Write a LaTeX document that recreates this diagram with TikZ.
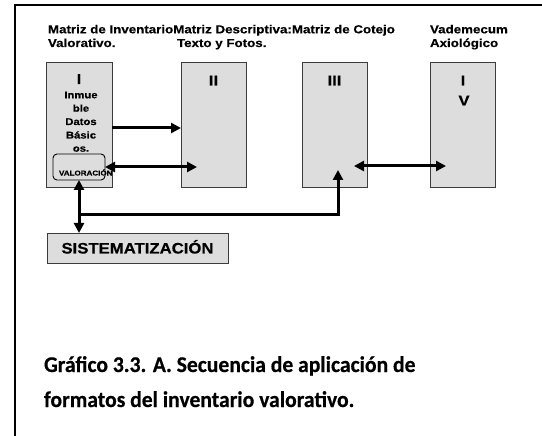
\documentclass[tikz,border=0pt]{standalone}
\usepackage{fontspec}
\usetikzlibrary{arrows.meta,positioning}
\newfontfamily\arialfont[FakeStretch=1.15,BoldFeatures={FakeBold=0.4}]{Liberation Sans}
\newfontfamily\sistfont[FakeStretch=1.1,BoldFeatures={FakeBold=0.4}]{Liberation Sans}
\newfontfamily\captionfont[FakeStretch=0.96,BoldFeatures={FakeBold=0.5}]{Carlito}
\definecolor{boxgray}{RGB}{221,221,221}
\definecolor{edgegray}{RGB}{60,60,60}

\begin{document}
\begin{tikzpicture}
  [x=1pt,y=-1pt,
   every node/.style={inner sep=0,outer sep=0},
   matbox/.style={draw=edgegray,fill=boxgray,line width=0.9pt,minimum width=65pt,minimum height=125pt},
   head/.style={anchor=base west,font=\arialfont\bfseries\fontsize{11.6}{13}\selectfont},
   numtxt/.style={anchor=base,font=\arialfont\bfseries\fontsize{14.5}{16}\selectfont},
   smalltxt/.style={anchor=base,font=\arialfont\bfseries\fontsize{9.8}{11}\selectfont},
   captxt/.style={anchor=base west,font=\captionfont\bfseries\fontsize{22.5}{35}\selectfont},
   arr/.style={line width=3pt,-{Triangle[length=10pt,width=10pt]}},
   darr/.style={line width=3pt,{Triangle[length=10pt,width=10pt]}-{Triangle[length=10pt,width=10pt]}}]

  \useasboundingbox (0,0) rectangle (542,436);
  \draw[line width=1.5pt] (15,436) -- (15,5) -- (542,5);

  % headers
  \node[head] (h1a) at (48,33.3) {Matriz de Inventario};
  \node[head] (h1b) at (48,47) {Valorativo.};
  \node[head] (h2a) at (h1a.base east) {Matriz Descriptiva:};
  \node[head] (h2b) at (177,47) {Texto y Fotos.};
  \node[head] (h3a) at (h2a.base east) {Matriz de Cotejo};
  \node[head] (h4a) at (430,33.3) {Vademecum};
  \node[head] (h4b) at (430,47) {Axiológico};

  % matrices
  \node[matbox,minimum width=66pt] (boxI) at (79,124.5) {};
  \node[matbox] (boxII) at (213.5,124.5) {};
  \node[matbox] (boxIII) at (334.5,124.5) {};
  \node[matbox] (boxIV) at (462.5,124.5) {};

  \node[numtxt] (nI) at (79,84) {I};
  \node[numtxt] (nII) at (213.5,85.5) {II};
  \node[numtxt] (nIII) at (334.5,85.5) {III};
  \node[numtxt] (nIVa) at (463,85.5) {I};
  \node[numtxt] (nIVb) at (464,105.5) {V};

  \node[smalltxt] (t1) at (81,98.3) {Inmue};
  \node[smalltxt] (t2) at (81,111.7) {ble};
  \node[smalltxt] (t3) at (81,125) {Datos};
  \node[smalltxt] (t4) at (81,138.5) {Básic};
  \node[smalltxt] (t5) at (81,151.7) {os.};

  \node[draw=black,fill=boxgray,line width=0.9pt,rounded corners=4pt,minimum width=52pt,minimum height=26pt] (valor) at (79,167) {};
  \node[anchor=base west,font=\arialfont\bfseries\fontsize{7}{8}\selectfont] (valortxt) at (59,175.5) {VALORACIÓN};

  \node[draw=edgegray,fill=boxgray,line width=0.9pt,minimum width=181pt,minimum height=30pt,text height=11pt,text depth=0pt,font=\sistfont\bfseries\fontsize{15.2}{17}\selectfont] (sist) at (137.5,248) {SISTEMATIZACIÓN};

  % connectors
  \coordinate (p2) at (197,167);
  \coordinate (j1) at (79,215);
  \coordinate (p3) at (338,170);
  \coordinate (p4) at (354,166);
  \coordinate (p5) at (446,166);

  \draw[arr] ([yshift=-3.5pt]boxI.east) -- ([yshift=-3.5pt]boxII.west);
  \draw[darr] (valor.east) -- (p2);
  \draw[darr] (valor.south) -- (valor.south |- sist.north);
  \draw[arr] (j1) -| (p3);
  \draw[darr] (p4) -- (p5);

  % caption
  \node[captxt] (cap1) at (44,372) {Gráfico 3.3. A. Secuencia de aplicación de};
  \node[captxt] (cap2) at (44,407) {formatos del inventario valorativo.};
\end{tikzpicture}
\end{document}
